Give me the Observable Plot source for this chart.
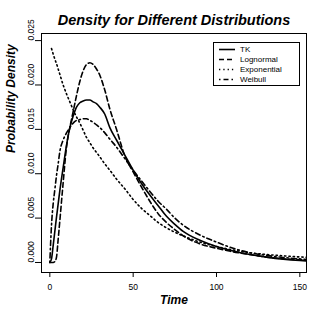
<!DOCTYPE html>
<html>
<head>
<meta charset="utf-8">
<script src="https://cdn.jsdelivr.net/npm/d3@7"></script>
<script src="https://cdn.jsdelivr.net/npm/@observablehq/plot@0.6"></script>
<style>
  html, body { margin: 0; padding: 0; background: #fff; }
  #chart { position: relative; width: 309px; height: 312px; }
  #chart svg { display: block; }
  #legend { position: absolute; left: 0; top: 0; pointer-events: none; }
</style>
</head>
<body>
<div id="chart"></div>
<script>
// Density curves on a shared time grid (null = not drawn at that time)
const time = [0, 1, 2, 3, 4, 5, 6, 8, 10, 12, 14, 16, 18, 20, 22, 24, 26, 28, 30, 33, 36, 40, 45, 50, 55, 60, 65, 70, 75, 80, 90, 100, 110, 120, 130, 140, 150, 155];

const tk = [0, 0.0004, 0.0019, 0.0035, 0.0051, 0.0066, 0.0081, 0.0107, 0.0132, 0.0152, 0.0165, 0.0175, 0.0180, 0.0182, 0.0183, 0.0183, 0.0181, 0.0179, 0.0175, 0.0167, 0.0152, 0.0138, 0.0121, 0.0104, 0.0089, 0.0076, 0.0064, 0.0052, 0.0043, 0.0035, 0.0025, 0.0018, 0.0013, 0.0009, 0.0006, 0.00037, 0.00022, 0.00017];

const lognormal = [0, 0, 0, 0.0001, 0.0006, 0.0026, 0.0047, 0.0090, 0.0130, 0.0152, 0.0170, 0.0188, 0.0204, 0.0216, 0.0223, 0.0225, 0.0223, 0.0218, 0.0211, 0.0194, 0.0173, 0.0150, 0.0120, 0.0102, 0.0085, 0.0069, 0.0055, 0.0045, 0.0037, 0.0030, 0.0021, 0.0016, 0.0012, 0.0009, 0.0006, 0.00042, 0.0003, 0.00026];

const exponential = [null, 0.0241, 0.0235, 0.0229, 0.0224, 0.0218, 0.0212, 0.0200, 0.0190, 0.0181, 0.0172, 0.0164, 0.0157, 0.0149, 0.0141, 0.0135, 0.0129, 0.0124, 0.0119, 0.0111, 0.0104, 0.0094, 0.0083, 0.0071, 0.0061, 0.0053, 0.0045, 0.0039, 0.0034, 0.0030, 0.0023, 0.0018, 0.0014, 0.0011, 0.0009, 0.00075, 0.00062, 0.00058];

const weibull = [0, 0.0042, 0.0066, 0.0082, 0.0098, 0.0111, 0.0125, 0.0138, 0.0146, 0.0152, 0.0157, 0.0160, 0.0161, 0.0162, 0.0162, 0.0160, 0.0158, 0.0155, 0.0152, 0.0146, 0.0139, 0.0130, 0.0117, 0.0104, 0.0092, 0.0080, 0.0069, 0.0060, 0.0050, 0.0042, 0.0031, 0.0023, 0.0016, 0.0011, 0.0008, 0.00056, 0.0004, 0.00034];

const seriesNames = ["TK", "Lognormal", "Exponential", "Weibull"];
const seriesValues = [tk, lognormal, exponential, weibull];
const seriesDash = ["none", "5,3", "1.3,3", "1.5,3,5,3"];

const xTicks = [0, 50, 100, 150];
const yTicks = [0, 0.005, 0.010, 0.015, 0.020, 0.025];

const titleText = "Density for Different Distributions";
const xLabel = "Time";
const yLabel = "Probability Density";

const font = "'Liberation Sans', Arial, Helvetica, sans-serif";

function rowsFor(values) {
  return time.map((t, i) => ({time: t, density: values[i]})).filter(d => d.density != null);
}

const lineMarks = seriesValues.map((values, i) =>
  Plot.line(rowsFor(values), {
    x: "time",
    y: "density",
    stroke: "black",
    strokeWidth: 1.6,
    strokeDasharray: seriesDash[i] === "none" ? undefined : seriesDash[i],
    curve: "monotone-x",
    clip: true
  })
);

const plot = Plot.plot({
  width: 309,
  height: 312,
  marginLeft: 41,
  marginRight: 3,
  marginTop: 33,
  marginBottom: 40,
  style: {fontFamily: font, fontSize: "8.5px", background: "white", color: "black", overflow: "visible"},
  x: {domain: [-5, 154]},
  y: {domain: [-0.00113, 0.0258]},
  marks: [
    Plot.frame({stroke: "black", strokeWidth: 1}),
    Plot.axisX({ticks: xTicks, tickSize: 5, tickPadding: 6, label: null, fontSize: 8.5}),
    Plot.axisY({ticks: yTicks, tickSize: 6, tickFormat: () => "", label: null}),
    Plot.text(yTicks, {
      y: d => d,
      frameAnchor: "left",
      dx: -10.7,
      rotate: -90,
      text: d => d3.format(".3f")(d),
      fontSize: 8.5
    }),
    ...lineMarks,
    Plot.text([titleText], {
      frameAnchor: "top", dy: -19.2, text: d => d,
      fontSize: 14.5, fontWeight: "bold", fontStyle: "italic"
    }),
    Plot.text([xLabel], {
      frameAnchor: "bottom", dy: 31.2, text: d => d,
      fontSize: 12, fontWeight: "bold", fontStyle: "italic"
    }),
    Plot.text([yLabel], {
      frameAnchor: "left", dx: -30.8, rotate: -90, text: d => d,
      fontSize: 12, fontWeight: "bold", fontStyle: "italic"
    })
  ]
});

const chart = document.getElementById("chart");
chart.appendChild(plot);

// Legend box in the upper right of the panel
const legend = d3.select(chart).append("svg")
  .attr("id", "legend")
  .attr("width", 309)
  .attr("height", 312)
  .style("font-family", font);

legend.append("rect")
  .attr("x", 213.5).attr("y", 42.5)
  .attr("width", 86).attr("height", 43)
  .attr("fill", "white").attr("stroke", "black").attr("stroke-width", 1);

seriesNames.forEach((name, i) => {
  const yy = 49.5 + i * 10;
  legend.append("line")
    .attr("x1", 219).attr("x2", 235)
    .attr("y1", yy).attr("y2", yy)
    .attr("stroke", "black").attr("stroke-width", 1.6)
    .attr("stroke-dasharray", seriesDash[i] === "none" ? null : seriesDash[i]);
  legend.append("text")
    .attr("x", 240).attr("y", yy + 2.8)
    .attr("font-size", 8)
    .attr("fill", "black")
    .text(name);
});
</script>
</body>
</html>
